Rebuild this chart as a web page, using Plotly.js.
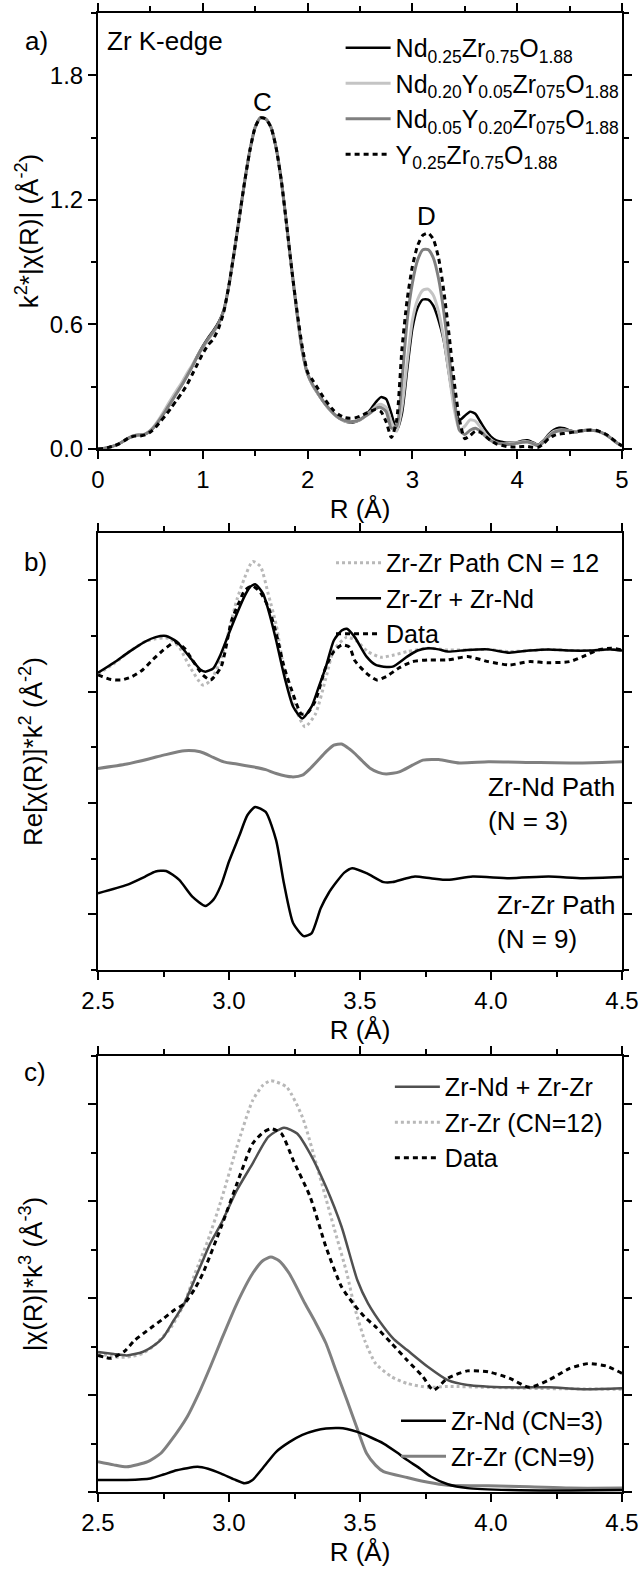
<!DOCTYPE html>
<html>
<head>
<meta charset="utf-8">
<script src="https://cdn.plot.ly/plotly-3.0.1.min.js"></script>
<style>html,body{margin:0;padding:0;background:#fff;}#chart{width:639px;height:1570px;}</style>
</head>
<body>
<div id="chart"></div>
<script>
// ---------- Panel a: Zr K-edge |chi(R)| ----------
const R_A = [0.00,0.05,0.10,0.15,0.20,0.25,0.30,0.35,0.40,0.45,0.50,0.55,0.60,0.65,0.70,0.75,0.80,0.85,0.90,0.95,
1.00,1.05,1.10,1.15,1.20,1.25,1.30,1.35,1.40,1.45,1.50,1.55,1.60,1.65,1.70,1.75,1.80,1.85,1.90,1.95,
2.00,2.05,2.10,2.15,2.20,2.25,2.30,2.35,2.40,2.45,2.50,2.55,2.60,2.65,2.70,2.75,2.80,2.85,2.90,2.95,
3.00,3.05,3.10,3.15,3.20,3.25,3.30,3.35,3.40,3.45,3.50,3.55,3.60,3.65,3.70,3.75,3.80,3.85,3.90,3.95,
4.00,4.05,4.10,4.15,4.20,4.25,4.30,4.35,4.40,4.45,4.50,4.55,4.60,4.65,4.70,4.75,4.80,4.85,4.90,4.95,5.00];

const NdZr = [0.000,0.003,0.008,0.015,0.025,0.040,0.055,0.065,0.068,0.072,0.088,0.115,0.150,0.190,0.230,0.270,0.310,0.355,0.400,0.450,
0.495,0.535,0.570,0.610,0.670,0.790,0.950,1.120,1.290,1.440,1.550,1.595,1.590,1.550,1.450,1.290,1.080,0.860,0.650,0.470,
0.360,0.305,0.265,0.228,0.195,0.168,0.148,0.135,0.128,0.130,0.140,0.160,0.190,0.225,0.250,0.240,0.170,0.090,0.170,0.380,
0.580,0.680,0.720,0.720,0.690,0.620,0.520,0.360,0.210,0.140,0.160,0.180,0.170,0.130,0.090,0.060,0.042,0.035,0.030,0.030,
0.032,0.040,0.042,0.032,0.020,0.040,0.070,0.092,0.102,0.100,0.090,0.082,0.085,0.090,0.090,0.088,0.080,0.068,0.050,0.030,0.015];

const Nd20Y05 = [0.000,0.003,0.008,0.015,0.025,0.040,0.055,0.065,0.068,0.072,0.090,0.120,0.158,0.200,0.242,0.282,0.320,0.365,0.405,0.450,
0.490,0.525,0.560,0.600,0.665,0.790,0.950,1.120,1.290,1.440,1.550,1.595,1.590,1.550,1.450,1.290,1.080,0.860,0.650,0.470,
0.360,0.305,0.265,0.228,0.195,0.168,0.148,0.135,0.130,0.132,0.140,0.158,0.180,0.205,0.215,0.200,0.130,0.085,0.200,0.420,
0.620,0.720,0.765,0.770,0.740,0.660,0.530,0.360,0.190,0.090,0.110,0.140,0.135,0.105,0.070,0.045,0.030,0.025,0.025,0.028,
0.030,0.035,0.035,0.028,0.018,0.035,0.065,0.085,0.092,0.092,0.088,0.082,0.085,0.090,0.090,0.088,0.080,0.068,0.050,0.030,0.015];

const Nd05Y20 = [0.000,0.003,0.008,0.015,0.025,0.040,0.055,0.065,0.068,0.072,0.088,0.115,0.150,0.188,0.228,0.268,0.308,0.352,0.398,0.448,
0.492,0.530,0.565,0.605,0.668,0.790,0.950,1.120,1.290,1.440,1.550,1.595,1.590,1.550,1.450,1.290,1.080,0.860,0.650,0.470,
0.362,0.308,0.268,0.230,0.198,0.170,0.150,0.138,0.132,0.134,0.142,0.158,0.175,0.195,0.200,0.180,0.100,0.110,0.330,0.620,
0.800,0.910,0.960,0.960,0.920,0.820,0.660,0.450,0.240,0.090,0.070,0.090,0.100,0.085,0.060,0.040,0.030,0.025,0.022,0.024,
0.028,0.032,0.034,0.026,0.016,0.032,0.060,0.080,0.088,0.090,0.088,0.082,0.085,0.090,0.090,0.088,0.080,0.068,0.050,0.030,0.015];

const Y25 = [0.000,0.003,0.008,0.015,0.025,0.040,0.055,0.062,0.063,0.068,0.082,0.105,0.135,0.165,0.200,0.235,0.270,0.310,0.360,0.410,
0.460,0.500,0.530,0.580,0.660,0.790,0.950,1.120,1.290,1.440,1.550,1.595,1.590,1.550,1.450,1.290,1.080,0.860,0.660,0.490,
0.370,0.330,0.290,0.250,0.215,0.185,0.165,0.152,0.148,0.150,0.158,0.170,0.182,0.190,0.180,0.130,0.055,0.140,0.480,0.720,
0.880,0.980,1.030,1.040,1.010,0.920,0.760,0.550,0.320,0.140,0.050,0.065,0.085,0.080,0.060,0.040,0.025,0.018,0.012,0.010,
0.010,0.012,0.012,0.008,0.008,0.025,0.050,0.065,0.072,0.075,0.078,0.082,0.088,0.090,0.092,0.090,0.082,0.070,0.052,0.032,0.015];

// ---------- Panel b: Re[chi(R)]*k^2 (offset, arbitrary units) ----------
const B_SUM_R = [2.50,2.56,2.62,2.68,2.72,2.76,2.80,2.85,2.89,2.91,2.94,2.97,3.00,3.03,3.06,3.08,3.10,3.13,3.16,3.18,3.21,3.245,3.28,3.315,3.34,3.37,3.40,3.43,3.45,3.48,3.525,3.56,3.59,3.625,3.68,3.72,3.76,3.80,3.835,3.91,3.99,4.07,4.146,4.22,4.30,4.38,4.456,4.50];
const B_SUM   = [5.34,5.52,5.72,5.90,5.98,6.00,5.90,5.62,5.40,5.36,5.42,5.69,6.05,6.40,6.72,6.88,6.93,6.76,6.30,5.92,5.30,4.73,4.52,4.73,5.05,5.45,5.92,6.10,6.13,5.98,5.63,5.48,5.45,5.45,5.63,5.74,5.78,5.76,5.72,5.75,5.76,5.70,5.74,5.76,5.74,5.74,5.76,5.74];

const B_DATA_R = [2.50,2.55,2.59,2.63,2.67,2.71,2.75,2.795,2.83,2.86,2.90,2.93,2.97,3.01,3.04,3.06,3.09,3.12,3.15,3.18,3.21,3.245,3.276,3.30,3.33,3.37,3.40,3.43,3.46,3.48,3.525,3.564,3.60,3.65,3.70,3.758,3.835,3.91,3.99,4.07,4.146,4.22,4.30,4.35,4.41,4.46,4.50];
const B_DATA   = [5.30,5.22,5.21,5.27,5.39,5.58,5.75,5.89,5.78,5.57,5.30,5.21,5.45,6.28,6.62,6.82,6.90,6.78,6.52,6.05,5.45,4.95,4.60,4.62,4.84,5.45,5.72,5.84,5.80,5.56,5.33,5.21,5.27,5.43,5.54,5.57,5.57,5.63,5.54,5.48,5.54,5.52,5.54,5.63,5.75,5.78,5.75];

const B_CN12_R = [2.50,2.56,2.62,2.68,2.72,2.77,2.81,2.85,2.90,2.93,2.97,3.00,3.03,3.06,3.09,3.12,3.15,3.18,3.21,3.245,3.29,3.33,3.37,3.40,3.45,3.49,3.53,3.58,3.63,3.68,3.76,3.835,3.91,3.99,4.07,4.146,4.22,4.30,4.38,4.456,4.50];
const B_CN12   = [5.32,5.50,5.72,5.90,5.95,5.96,5.80,5.45,5.12,5.20,5.60,6.10,6.65,7.05,7.34,7.25,6.75,6.20,5.40,4.80,4.37,4.60,5.25,5.75,5.98,5.90,5.72,5.62,5.66,5.72,5.78,5.75,5.75,5.76,5.72,5.74,5.76,5.74,5.74,5.76,5.75];

const B_ZRND_R = [2.50,2.61,2.70,2.75,2.83,2.89,2.94,2.98,3.03,3.09,3.14,3.18,3.24,3.28,3.31,3.34,3.37,3.40,3.43,3.46,3.48,3.51,3.54,3.57,3.60,3.65,3.70,3.74,3.80,3.88,3.99,4.15,4.35,4.50];
const B_ZRND   = [3.62,3.70,3.80,3.86,3.94,3.92,3.82,3.74,3.70,3.65,3.60,3.53,3.47,3.50,3.62,3.77,3.92,4.04,4.06,3.97,3.89,3.75,3.62,3.55,3.52,3.56,3.68,3.77,3.78,3.72,3.74,3.73,3.72,3.74];

const B_ZRZR_R = [2.50,2.61,2.68,2.72,2.76,2.81,2.86,2.91,2.94,2.97,3.00,3.04,3.07,3.10,3.14,3.18,3.21,3.245,3.285,3.315,3.35,3.38,3.41,3.44,3.47,3.525,3.59,3.625,3.67,3.71,3.77,3.835,3.93,4.07,4.22,4.35,4.50];
const B_ZRZR   = [1.38,1.53,1.68,1.77,1.78,1.62,1.32,1.15,1.26,1.53,1.95,2.42,2.78,2.93,2.84,2.33,1.55,0.84,0.61,0.66,1.11,1.38,1.58,1.75,1.83,1.74,1.58,1.58,1.64,1.68,1.65,1.62,1.68,1.65,1.68,1.65,1.67];

// ---------- Panel c: |chi(R)|*k^3 (arbitrary units) ----------
const C_SUM_R = [2.50,2.56,2.61,2.67,2.72,2.75,2.79,2.83,2.87,2.90,2.93,2.97,3.03,3.09,3.15,3.21,3.26,3.31,3.37,3.43,3.49,3.53,3.59,3.63,3.68,3.76,3.835,3.91,4.07,4.22,4.36,4.50];
const C_SUM   = [2.89,2.85,2.82,2.89,3.05,3.20,3.55,3.90,4.40,4.78,5.15,5.54,6.23,6.78,7.33,7.52,7.40,6.98,6.30,5.47,4.37,3.90,3.41,3.15,2.93,2.58,2.31,2.21,2.16,2.16,2.12,2.14];

const C_DATA_R = [2.50,2.55,2.60,2.64,2.70,2.75,2.79,2.83,2.87,2.90,2.97,3.03,3.09,3.13,3.16,3.20,3.245,3.31,3.37,3.43,3.48,3.52,3.56,3.62,3.68,3.74,3.78,3.835,3.91,3.99,4.07,4.146,4.22,4.30,4.37,4.44,4.50];
const C_DATA   = [2.82,2.76,2.90,3.13,3.38,3.58,3.75,3.89,4.20,4.51,5.47,6.36,7.19,7.42,7.50,7.40,6.85,6.09,5.06,4.23,3.85,3.60,3.41,3.07,2.72,2.38,2.10,2.35,2.50,2.48,2.35,2.16,2.31,2.55,2.65,2.60,2.45];

const C_CN12_R = [2.50,2.55,2.59,2.63,2.67,2.72,2.78,2.83,2.87,2.92,2.97,3.03,3.09,3.13,3.16,3.22,3.28,3.34,3.40,3.45,3.48,3.52,3.56,3.62,3.68,3.76,3.835,3.99,4.146,4.30,4.50];
const C_CN12   = [2.86,2.80,2.78,2.80,2.86,3.05,3.41,3.90,4.51,5.20,6.02,7.12,8.08,8.40,8.49,8.36,7.74,6.64,5.47,4.51,3.80,3.10,2.65,2.38,2.24,2.16,2.18,2.16,2.14,2.13,2.12];

const C_CN9_R = [2.50,2.56,2.61,2.69,2.74,2.78,2.84,2.89,2.93,2.97,3.03,3.09,3.13,3.16,3.19,3.23,3.29,3.33,3.37,3.41,3.45,3.49,3.525,3.56,3.59,3.68,3.76,3.835,3.99,4.146,4.30,4.50];
const C_CN9   = [0.625,0.56,0.52,0.625,0.80,1.07,1.55,2.10,2.60,3.13,3.89,4.51,4.78,4.85,4.78,4.51,3.89,3.50,3.07,2.48,1.90,1.30,0.80,0.55,0.42,0.30,0.20,0.14,0.13,0.11,0.08,0.08];

const C_CN3_R = [2.50,2.61,2.70,2.75,2.80,2.88,2.92,2.97,3.02,3.06,3.09,3.13,3.18,3.23,3.28,3.33,3.37,3.42,3.45,3.49,3.54,3.59,3.64,3.68,3.73,3.77,3.835,3.91,4.07,4.30,4.50];
const C_CN3   = [0.25,0.25,0.28,0.36,0.45,0.52,0.48,0.38,0.26,0.18,0.25,0.50,0.83,1.03,1.18,1.27,1.31,1.32,1.30,1.24,1.13,1.00,0.82,0.66,0.48,0.32,0.16,0.08,0.04,0.03,0.04];

// ---------- labels ----------
const LEG_A = ['Nd<sub>0.25</sub>Zr<sub>0.75</sub>O<sub>1.88</sub>',
               'Nd<sub>0.20</sub>Y<sub>0.05</sub>Zr<sub>075</sub>O<sub>1.88</sub>',
               'Nd<sub>0.05</sub>Y<sub>0.20</sub>Zr<sub>075</sub>O<sub>1.88</sub>',
               'Y<sub>0.25</sub>Zr<sub>0.75</sub>O<sub>1.88</sub>'];
const LEG_B = ['Zr-Zr Path CN = 12','Zr-Zr + Zr-Nd','Data'];
const LEG_C = ['Zr-Nd + Zr-Zr','Zr-Zr (CN=12)','Data','Zr-Nd (CN=3)','Zr-Zr (CN=9)'];

const FONT = 'Liberation Sans, Arial, sans-serif';
const BLACK = '#000000', LIGHT = '#c4c4c4', DARK = '#808080', MID = '#505050', DOTC = '#b8b8b8';
const LW = 2.5;
const sp = {shape:'spline', smoothing:0.6};

function ln(color, dash, width){ return Object.assign({color:color, dash:dash||'solid', width:width||LW}, sp); }

const traces = [
  // panel a
  {x:R_A, y:NdZr,    xaxis:'x', yaxis:'y', mode:'lines', name:LEG_A[0], legendgroup:'a1', line:ln(BLACK), legend:'legend'},
  {x:R_A, y:Nd20Y05, xaxis:'x', yaxis:'y', mode:'lines', name:LEG_A[1], legendgroup:'a2', line:ln(LIGHT,'solid',3), legend:'legend'},
  {x:R_A, y:Nd05Y20, xaxis:'x', yaxis:'y', mode:'lines', name:LEG_A[2], legendgroup:'a3', line:ln(DARK,'solid',3), legend:'legend'},
  {x:R_A, y:Y25,     xaxis:'x', yaxis:'y', mode:'lines', name:LEG_A[3], legendgroup:'a4', line:ln(BLACK,'5px,4px',3), legend:'legend'},
  // panel b
  {x:B_CN12_R, y:B_CN12, xaxis:'x2', yaxis:'y2', mode:'lines', name:LEG_B[0], line:ln(DOTC,'dot',3), legend:'legend2'},
  {x:B_SUM_R,  y:B_SUM,  xaxis:'x2', yaxis:'y2', mode:'lines', name:LEG_B[1], line:ln(BLACK), legend:'legend2'},
  {x:B_DATA_R, y:B_DATA, xaxis:'x2', yaxis:'y2', mode:'lines', name:LEG_B[2], line:ln(BLACK,'5px,4px',3), legend:'legend2'},
  {x:B_ZRND_R, y:B_ZRND, xaxis:'x2', yaxis:'y2', mode:'lines', showlegend:false, line:ln(DARK,'solid',3)},
  {x:B_ZRZR_R, y:B_ZRZR, xaxis:'x2', yaxis:'y2', mode:'lines', showlegend:false, line:ln(BLACK)},
  // panel c
  {x:C_CN12_R, y:C_CN12, xaxis:'x3', yaxis:'y3', mode:'lines', name:LEG_C[1], legendrank:2, line:ln(DOTC,'dot',3), legend:'legend3'},
  {x:C_SUM_R,  y:C_SUM,  xaxis:'x3', yaxis:'y3', mode:'lines', name:LEG_C[0], legendrank:1, line:ln(MID), legend:'legend3'},
  {x:C_DATA_R, y:C_DATA, xaxis:'x3', yaxis:'y3', mode:'lines', name:LEG_C[2], legendrank:3, line:ln(BLACK,'5px,4px',3), legend:'legend3'},
  {x:C_CN9_R,  y:C_CN9,  xaxis:'x3', yaxis:'y3', mode:'lines', name:LEG_C[4], legendrank:2, line:ln(DARK,'solid',3), legend:'legend4'},
  {x:C_CN3_R,  y:C_CN3,  xaxis:'x3', yaxis:'y3', mode:'lines', name:LEG_C[3], legendrank:1, line:ln(BLACK), legend:'legend4'}
];

const tickFont = {family:FONT, size:24, color:'#000'};
const titleFont = {family:FONT, size:26, color:'#000'};
function xax(anchor, range, dtick, minor, fmt){
  return {anchor:anchor, domain:[0,1], range:range, dtick:dtick, tick0:range[0], tickformat:fmt,
    ticks:'outside', ticklen:8, tickwidth:2, tickcolor:'#000', showline:true, linewidth:2, linecolor:'#000',
    mirror:'ticks', showgrid:false, zeroline:false, tickfont:tickFont,
    minor:{dtick:minor, ticks:'outside', ticklen:5, tickwidth:2, tickcolor:'#000', showgrid:false},
    title:{text:'R (Å)', font:titleFont, standoff:8}};
}
function yax(anchor, domain, range, extra){
  return Object.assign({anchor:anchor, domain:domain, range:range, ticks:'outside', ticklen:8, tickwidth:2, tickcolor:'#000',
    showline:true, linewidth:2, linecolor:'#000', mirror:'ticks', showgrid:false, zeroline:false, tickfont:tickFont}, extra);
}
const legendBase = {bgcolor:'rgba(0,0,0,0)', borderwidth:0, font:{family:FONT, size:25, color:'#000'},
  xanchor:'left', yanchor:'top', tracegroupgap:0, itemwidth:45, traceorder:'normal'};

const layout = {
  width:639, height:1570, margin:{l:98, r:17, t:13, b:78, autoexpand:false},
  paper_bgcolor:'#fff', plot_bgcolor:'#fff', font:{family:FONT, color:'#000'},
  xaxis: xax('y', [0,5], 1, 0.5, 'd'),
  yaxis: yax('x', [0.7052,1.0], [0,2.1], {tick0:0, dtick:0.6, tickformat:'.1f',
    minor:{dtick:0.3, ticks:'outside', ticklen:5, tickwidth:2, tickcolor:'#000', showgrid:false},
    title:{text:'k<sup>2</sup>*|χ(R)| (Å<sup>-2</sup>)', font:titleFont, standoff:4}}),
  xaxis2: xax('y2', [2.5,4.5], 0.5, 0.25, '.1f'),
  yaxis2: yax('x2', [0.3529,0.6484], [0,7.85], {tick0:1, dtick:2, showticklabels:false,
    minor:{dtick:1, ticks:'outside', ticklen:5, tickwidth:2, tickcolor:'#000', showgrid:false},
    title:{text:'Re[χ(R)]*k<sup>2</sup> (Å<sup>-2</sup>)', font:titleFont, standoff:38}}),
  xaxis3: xax('y3', [2.5,4.5], 0.5, 0.25, '.1f'),
  yaxis3: yax('x3', [0,0.2948], [0,9], {tick0:0, dtick:2, showticklabels:false,
    minor:{dtick:1, ticks:'outside', ticklen:5, tickwidth:2, tickcolor:'#000', showgrid:false},
    title:{text:'|χ(R)|*k<sup>3</sup> (Å<sup>-3</sup>)', font:titleFont, standoff:38}}),
  legend:  Object.assign({}, legendBase, {x:0.463, y:0.9919, tracegroupgap:4, font:{family:FONT, size:25, color:'#000'}}),
  legend2: Object.assign({}, legendBase, {x:0.4447, y:0.6437}),
  legend3: Object.assign({}, legendBase, {x:0.557, y:0.2894}),
  legend4: Object.assign({}, legendBase, {x:0.5687, y:0.0636}),
  annotations: [
    {text:'a)', xref:'paper', yref:'paper', x:-0.118, y:0.9811, showarrow:false, font:titleFont, xanchor:'center', yanchor:'middle'},
    {text:'Zr K-edge', xref:'paper', yref:'paper', x:0.0134, y:0.9811, showarrow:false, font:titleFont, xanchor:'left', yanchor:'middle'},
    {text:'C', xref:'x', yref:'y', x:1.57, y:1.67, showarrow:false, font:titleFont, xanchor:'center', yanchor:'middle'},
    {text:'D', xref:'x', yref:'y', x:3.13, y:1.12, showarrow:false, font:titleFont, xanchor:'center', yanchor:'middle'},
    {text:'b)', xref:'paper', yref:'paper', x:-0.12, y:0.6288, showarrow:false, font:titleFont, xanchor:'center', yanchor:'middle'},
    {text:'Zr-Nd Path<br>(N = 3)', xref:'x2', yref:'y2', x:3.98, y:2.99, showarrow:false, font:titleFont, xanchor:'left', yanchor:'middle', align:'left'},
    {text:'Zr-Zr Path<br>(N = 9)', xref:'x2', yref:'y2', x:4.015, y:0.86, showarrow:false, font:titleFont, xanchor:'left', yanchor:'middle', align:'left'},
    {text:'c)', xref:'paper', yref:'paper', x:-0.12, y:0.284, showarrow:false, font:titleFont, xanchor:'center', yanchor:'middle'}
  ],
  showlegend:true
};

Plotly.newPlot('chart', traces, layout, {displayModeBar:false, staticPlot:true});
</script>
</body>
</html>
